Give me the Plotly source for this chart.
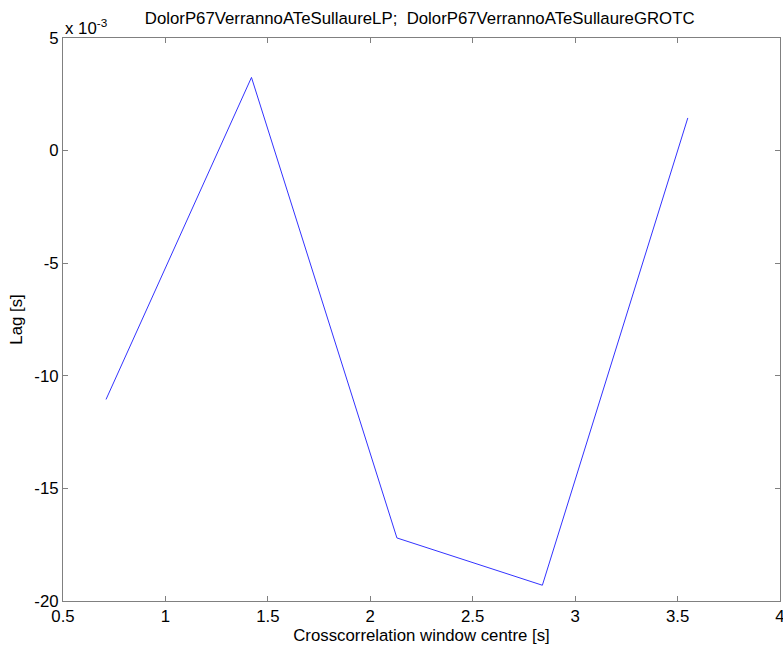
import plotly.graph_objects as go

window_centre = [0.71, 1.42, 2.13, 2.84, 3.55]
lag_s = [-11.05e-3, 3.25e-3, -17.2e-3, -19.3e-3, 1.45e-3]
y_ticks = [-20e-3, -15e-3, -10e-3, -5e-3, 0, 5e-3]
y_tick_labels = ["-20", "-15", "-10", "-5", "0", "5"]
x_ticks = [0.5, 1, 1.5, 2, 2.5, 3, 3.5, 4]
x_tick_labels = ["0.5", "1", "1.5", "2", "2.5", "3", "3.5", "4"]

font = dict(family="Liberation Sans, Arial, sans-serif", size=16.8, color="black")

fig = go.Figure()
fig.add_trace(go.Scatter(x=window_centre, y=lag_s, mode="lines",
                         line=dict(color="#3333ff", width=1), showlegend=False))

axis_common = dict(showline=True, linecolor="#808080", linewidth=1, mirror="ticks",
                   ticks="inside", ticklen=5, tickcolor="#808080", showgrid=False,
                   zeroline=False, tickfont=font, automargin=False,
                   ticklabeloverflow="allow")
fig.update_xaxes(range=[0.5, 4], tickvals=x_ticks, ticktext=x_tick_labels,
                 title=dict(text="Crosscorrelation window centre [s]", font=font, standoff=4),
                 **axis_common)
fig.update_yaxes(range=[-20e-3, 5e-3], tickvals=y_ticks, ticktext=y_tick_labels,
                 title=dict(text="Lag [s]", font=font, standoff=7),
                 **axis_common)

fig.add_annotation(x=0, y=1, xref="paper", yref="paper", xanchor="left", yanchor="bottom",
                   text="x 10<sup>-3</sup>", showarrow=False, font=font, yshift=-2)

fig.update_layout(
    width=783, height=647,
    margin=dict(l=63, r=3, t=38, b=46, autoexpand=False),
    paper_bgcolor="white", plot_bgcolor="white",
    title=dict(text="DolorP67VerrannoATeSullaureLP;  DolorP67VerrannoATeSullaureGROTC",
               x=0.536, xanchor="center", y=1 - 18 / 647, yanchor="middle", font=font,
               automargin=False),
)
fig.write_html(
    "out.html",
    config={"displayModeBar": False},
    post_script="document.body.style.margin='0';document.body.style.overflow='hidden';",
)
